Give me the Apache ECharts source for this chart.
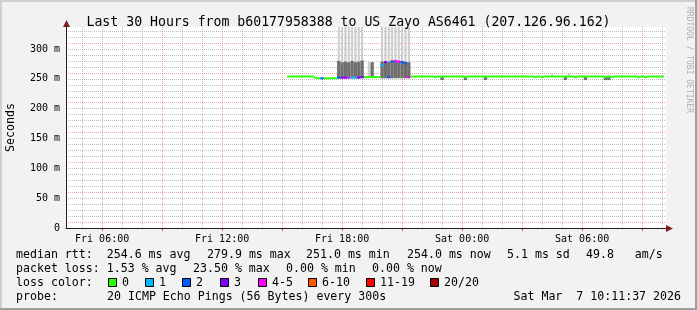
<!DOCTYPE html>
<html><head><meta charset="utf-8">
<script src="https://cdn.jsdelivr.net/npm/echarts@6/dist/echarts.min.js"></script>
<style>html,body{margin:0;padding:0;background:#f2f2f2}#c{width:697px;height:310px}</style>
</head><body><div id="c"></div><script>
// ---- data (hours since Fri 00:00) ----
const tStart = 4 + 11/60 + 37/3600;      // Fri 04:11:37
const tEnd = tStart + 30;                 // Sat 10:11:37
const firstSlot = 15 + 20/60;             // Fri 15:20, 10-minute steps
const slotStep = 1/6;
const median = [
  254,254,254,254,254,254,254,254,
  252,
  251,251,251,251,251,251,
  252,252,252,252,252,252,252,253,
  253,253,253,253,253,
  273,278,253,279,280,279,278,276,253,
  254,254,254,254,254,254,254,253,254,254,
  254,254,254,254,254,254,253,254,254,254,
  254,254,254,254,254,254,254,254,254,254,
  254,254,254,254,254,254,254,253,254,253,
  254,254,254,254,254,254,254,254,254,253,
  254,254,254,254,254,254,254,254,253,254,
  253,254,254,254,254,254,254,254,253,254,
  253,254,254,254,254,254
];
const loss = [
  0,0,0,0,0,0,0,0,
  0,
  0,2,0,0,0,0,
  2,3,3,4,1,1,3,3,
  0,0,0,0,0,
  1,3,2,2,4,4,2,2,4,
  0,0,0,0,0,0,0,0,0,0,
  0,0,0,0,0,0,0,0,0,0,
  0,0,0,0,0,0,0,0,0,0,
  0,0,0,0,0,0,0,0,0,0,
  0,0,0,0,0,0,0,0,0,0,
  0,0,0,0,0,0,0,0,0,0,
  0,0,0,0,0,0,0,0,0,0,
  0,0,0,0,0,0
];
const smokeSlot = [15,16,17,18,19,20,21,22,24,25,28,29,30,31,32,33,34,35,36,46,53,59,79,83,84,89,95,96];
const smokeLo   = [251,251,251,251,251,251,251,251,252,252,251,251,251,251,251,251,251,251,251,248,248,248,253,248,253,248,248,248];
const smokeMid  = [280,278,279,278,280,278,279,281,252,278,279,280,279,281,281,280,280,279,278,253,253,253,253,253,253,253,253,253];
const smokeHi   = [345,345,345,345,345,345,345,345,278,278,345,345,345,345,345,345,345,345,345,253,253,253,259,253,260,253,253,253];
const yTicks = [0,50,100,150,200,250,300];
const xLabelHours = [6,12,18,24,30];
const gridHours = [5,6,7,8,9,10,11,12,13,14,15,16,17,18,19,20,21,22,23,24,25,26,27,28,29,30,31,32,33,34];
const lossClasses = ['0','1','2','3','4-5','6-10','11-19','20/20'];
const lossColors = ['#26ff00','#00b8ff','#0059ff','#7e00ff','#ff00ff','#ff5500','#ff0000','#a10000'];
const titleText = 'Last 30 Hours from b60177958388 to US Zayo AS6461 (207.126.96.162)';

function lossColor(n){
  if (n <= 0) return lossColors[0];
  if (n === 1) return lossColors[1];
  if (n === 2) return lossColors[2];
  if (n === 3) return lossColors[3];
  if (n <= 5) return lossColors[4];
  if (n <= 10) return lossColors[5];
  if (n <= 19) return lossColors[6];
  return lossColors[7];
}
const times = median.map((v,k) => firstSlot + k*slotStep);
const medData = median.map((v,k) => [times[k], v, loss[k]]);
const smokeData = smokeSlot.map((k,i) => [times[k], smokeLo[i], smokeMid[i], smokeHi[i]]);

const FONT = 'DejaVu Sans Mono';
const GRAY = 'rgba(140,140,140,0.55)';
const PINK = 'rgba(222,79,79,0.5)';
const half = slotStep/2;

const chart = echarts.init(document.getElementById('c'), null, {renderer:'canvas'});

const textLines = [
  [16, 254.5, 'median rtt:  254.6 ms avg'], [207, 254.5, '279.9 ms max'], [306, 254.5, '251.0 ms min'],
  [407, 254.5, '254.0 ms now'], [507, 254.5, '5.1 ms sd'], [586, 254.5, '49.8   am/s'],
  [16, 268.5, 'packet loss: 1.53 % avg'], [193, 268.5, '23.50 % max'], [286, 268.5, '0.00 % min'], [372, 268.5, '0.00 % now'],
  [16, 282.5, 'loss color:'],
  [16, 296.5, 'probe:'], [107, 296.5, '20 ICMP Echo Pings (56 Bytes) every 300s']
];
const boxX = [108,145,182,220,258,308,366,430];
const graphics = [];
graphics.push({type:'rect', shape:{x:0,y:0,width:697,height:2}, style:{fill:'#cfcfcf'}, silent:true});
graphics.push({type:'rect', shape:{x:0,y:0,width:2,height:310}, style:{fill:'#cfcfcf'}, silent:true});
graphics.push({type:'rect', shape:{x:0,y:308,width:697,height:2}, style:{fill:'#9e9e9e'}, silent:true});
graphics.push({type:'rect', shape:{x:695,y:0,width:2,height:310}, style:{fill:'#9e9e9e'}, silent:true});
textLines.forEach(([x,y,t]) => graphics.push({type:'text', x, y, style:{text:t, font:'11.6px "'+FONT+'"', fill:'#000', verticalAlign:'middle', align:'left'}}));
boxX.forEach((x,i) => {
  graphics.push({type:'rect', shape:{x:x+0.5, y:278.5, width:8, height:8}, style:{fill:lossColors[i], stroke:'#000', lineWidth:1}});
  graphics.push({type:'text', x:x+14, y:282.5, style:{text:lossClasses[i], font:'11.6px "'+FONT+'"', fill:'#000', verticalAlign:'middle'}});
});
graphics.push({type:'text', x:681, y:296.5, style:{text:'Sat Mar  7 10:11:37 2026', font:'11.6px "'+FONT+'"', fill:'#000', verticalAlign:'middle', align:'right'}});
graphics.push({type:'text', x:689, y:60, rotation:-Math.PI/2, style:{text:'RRDTOOL / TOBI OETIKER', font:'8px "'+FONT+'"', fill:'#b0b0b0', verticalAlign:'middle', align:'center'}});
graphics.push({type:'line', shape:{x1:66.5,y1:27,x2:66.5,y2:24}, style:{stroke:'#1f1f1f', lineWidth:1}});
graphics.push({type:'polygon', shape:{points:[[66.5,20],[63,27],[70,27]]}, style:{fill:'#801f1f'}});
graphics.push({type:'line', shape:{x1:666,y1:228.5,x2:669,y2:228.5}, style:{stroke:'#1f1f1f', lineWidth:1}});
graphics.push({type:'polygon', shape:{points:[[673,228.5],[666,225],[666,232]]}, style:{fill:'#801f1f'}});

chart.setOption({
  animation:false,
  backgroundColor:'#f2f2f2',
  title:{text:titleText, left:'center', top:11, textStyle:{fontFamily:FONT, fontSize:13.2, fontWeight:'normal', color:'#000'}},
  grid:{left:66, right:31, top:27, bottom:82, containLabel:false, outerBoundsMode:'none', show:true, backgroundColor:'#ffffff', borderWidth:0},
  xAxis:{
    type:'value', min:tStart, max:tEnd,
    axisLine:{show:true, onZero:false, lineStyle:{color:'#1f1f1f', width:1}},
    axisTick:{show:false},
    axisLabel:{customValues:xLabelHours, margin:6, fontFamily:FONT, fontSize:10, color:'#000',
      formatter:(h)=>{const d = h < 24 ? 'Fri' : 'Sat'; const hh = Math.round(h % 24); return d+' '+(hh<10?'0':'')+hh+':00';}},
    splitLine:{show:false}
  },
  yAxis:{
    type:'value', min:0, max:337, interval:10,
    name:'Seconds', nameLocation:'middle', nameRotate:90, nameGap:49,
    nameTextStyle:{fontFamily:FONT, fontSize:11.6, color:'#000'},
    axisLine:{show:true, lineStyle:{color:'#1f1f1f', width:1}},
    axisTick:{show:false},
    axisLabel:{margin:6, fontFamily:FONT, fontSize:10, color:'#000', showMaxLabel:false,
      formatter:(v)=> yTicks.indexOf(v) < 0 ? '' : (v === 0 ? '0' : v+' m')},
    splitLine:{show:true, showMinLine:false, showMaxLine:false, lineStyle:{color:[PINK,GRAY,GRAY,GRAY,GRAY], type:[1,1], width:1}}
  },
  series:[
    {
      type:'custom', name:'vgrid', z:1, silent:true, clip:false,
      data:gridHours.map(h => [h, 0, h % 3 === 0 ? 1 : 0]), encode:{x:0, y:1},
      renderItem:(params, api) => {
        const h = api.value(0);
        const a = api.coord([h, 0]), b = api.coord([h, 337]);
        const x = Math.round(a[0]) + 0.5;
        const major = api.value(2);
        const ch = [{type:'line', shape:{x1:x, y1:a[1], x2:x, y2:b[1]},
          style:{stroke: major ? PINK : GRAY, lineWidth:1, lineDash:[1,1]}}];
        if (major) ch.push({type:'line', shape:{x1:x, y1:a[1]+1, x2:x, y2:a[1]+3}, style:{stroke:'#de4f4f', lineWidth:1}});
        return {type:'group', children:ch};
      }
    },
    {
      type:'custom', name:'smoke', clip:true, z:2,
      data:smokeData, encode:{x:0, y:[1,2,3]},
      renderItem:(params, api) => {
        const t = api.value(0), lo = api.value(1), mid = api.value(2), hi = api.value(3);
        const a = api.coord([t-half, lo]), b = api.coord([t+half, mid]), c = api.coord([t+half, hi]);
        const w = b[0]-a[0];
        const ch = [];
        if (hi > mid) ch.push({type:'rect', shape:{x:a[0]+0.6, y:c[1], width:w-1.2, height:b[1]-c[1]}, style:{fill:'#cdcdcd'}});
        if (mid > lo) ch.push({type:'rect', shape:{x:a[0], y:b[1], width:w, height:a[1]-b[1]}, style:{fill:'#6f6f6f'}});
        return {type:'group', children:ch};
      }
    },
    {
      type:'custom', name:'median', clip:true, z:3,
      data:medData, encode:{x:0, y:1},
      renderItem:(params, api) => {
        const t = api.value(0), m = api.value(1), l = api.value(2);
        const a = api.coord([t-half, m]), b = api.coord([t+half, m]);
        return {type:'rect', shape:{x:a[0], y:a[1]-1, width:b[0]-a[0], height:2}, style:{fill:lossColor(l)}};
      }
    }
  ],
  graphic:graphics
});
</script></body></html>
